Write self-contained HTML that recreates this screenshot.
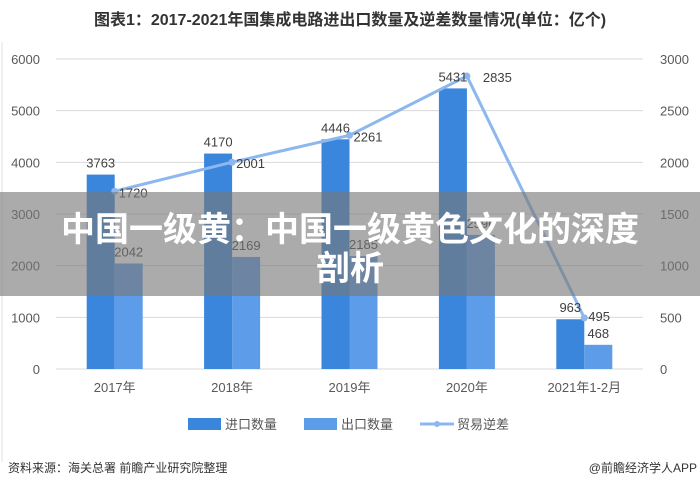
<!DOCTYPE html>
<html><head><meta charset="utf-8"><style>
body{margin:0;width:700px;height:488px;background:#fff;overflow:hidden;font-family:"Liberation Sans","Noto Sans CJK SC",sans-serif;}
</style></head><body>
<svg width="700" height="488" xmlns="http://www.w3.org/2000/svg" id="svg" font-family="Liberation Sans, Noto Sans CJK SC, sans-serif">
<text x="350" y="25" text-anchor="middle" font-size="16" font-weight="bold" fill="#333">图表1：2017-2021年国集成电路进出口数量及逆差数量情况(单位：亿个)</text>
<line x1="2" y1="42" x2="2" y2="462" stroke="#e0e0e0"/>
<g id="grid"></g><g id="bars"></g><g id="line"></g><g id="labels"></g>
<g>
<rect x="188" y="418" width="33" height="12" fill="#3a86dd"/>
<text x="225" y="429" font-size="13" fill="#555">进口数量</text>
<rect x="304" y="418" width="33" height="12" fill="#5d9ce8"/>
<text x="341" y="429" font-size="13" fill="#555">出口数量</text>
<line x1="420" y1="424" x2="454" y2="424" stroke="#8db7ef" stroke-width="3"/>
<circle cx="437" cy="424" r="3" fill="#8db7ef"/>
<text x="457" y="429" font-size="13" fill="#555">贸易逆差</text>
</g>
<text x="8" y="472" font-size="12" fill="#333">资料来源：海关总署 前瞻产业研究院整理</text>
<text x="697" y="472" font-size="12" fill="#333" text-anchor="end">@前瞻经济学人APP</text>
<rect x="0" y="192" width="700" height="104" fill="rgba(120,120,120,0.62)"/>
<text x="350" y="241" text-anchor="middle" font-size="34" font-weight="bold" fill="#fff">中国一级黄：中国一级黄色文化的深度</text>
<text x="350" y="280" text-anchor="middle" font-size="34" font-weight="bold" fill="#fff">剖析</text>
</svg>
<script>
const categories=["2017年","2018年","2019年","2020年","2021年1-2月"];
const importVals=[3763,4170,4446,5431,963];
const exportVals=[2042,2169,2185,2596,468];
const deficitVals=[1720,2001,2261,2835,495];
const leftTicks=[0,1000,2000,3000,4000,5000,6000];
const rightTicks=[0,500,1000,1500,2000,2500,3000];
const NS="http://www.w3.org/2000/svg";
const X0=56,X1=643,Y0=369,Y1=59;
const band=(X1-X0)/categories.length;
const xc=i=>X0+band*(i+0.5);
const yL=v=>Y0-(v/6000)*(Y0-Y1);
const yR=v=>Y0-(v/3000)*(Y0-Y1);
function mk(tag,attrs,parent,txt){const e=document.createElementNS(NS,tag);for(const k in attrs)e.setAttribute(k,attrs[k]);if(txt!==undefined)e.textContent=txt;document.getElementById(parent).appendChild(e);return e;}
leftTicks.forEach((t,i)=>{
 let g=mk('line',{x1:X0,x2:X1,y1:yL(t),y2:yL(t),stroke:'#d9d9d9'},'grid');
 
 
 let l=mk('text',{x:40,y:yL(t)+5,'text-anchor':'end','font-size':13,fill:'#595959'},'grid',t);
 
 
 let r=mk('text',{x:660,y:yR(rightTicks[i])+5,'font-size':13,fill:'#595959'},'grid',rightTicks[i]);
 
 
});
const bw=28;
categories.forEach((c,i)=>{
 let a=mk('rect',{x:xc(i)-bw,y:yL(importVals[i]),width:bw,height:Y0-yL(importVals[i]),fill:'#3a86dd'},'bars');
 
 
 let b=mk('rect',{x:xc(i),y:yL(exportVals[i]),width:bw,height:Y0-yL(exportVals[i]),fill:'#5d9ce8'},'bars');
 
 
 let t=mk('text',{x:xc(i),y:392,'text-anchor':'middle','font-size':13,fill:'#595959'},'labels',c);
 
 
 let li=mk('text',{x:xc(i)-bw/2,y:yL(importVals[i])-7,'text-anchor':'middle','font-size':13,fill:'#404040'},'labels',importVals[i]);
 
 
 let le=mk('text',{x:xc(i)+bw/2,y:yL(exportVals[i])-7,'text-anchor':'middle','font-size':13,fill:'#404040'},'labels',exportVals[i]);
 
 
 let ld=mk('text',{x:xc(i)+(i===3?16:4),y:yR(deficitVals[i])+(i===3?6:(i===4?3:6)),'font-size':13,fill:'#404040'},'labels',deficitVals[i]);
 
 
});
let pts=deficitVals.map((v,i)=>xc(i)+','+yR(v)).join(' ');
let pl=mk('polyline',{points:pts,fill:'none',stroke:'#8db7ef','stroke-width':3},'line');


deficitVals.forEach((v,i)=>{
 let c=mk('circle',{cx:xc(i),cy:yR(v),r:3.5,fill:'#8db7ef'},'line');
 
 
});
</script>
</body></html>
